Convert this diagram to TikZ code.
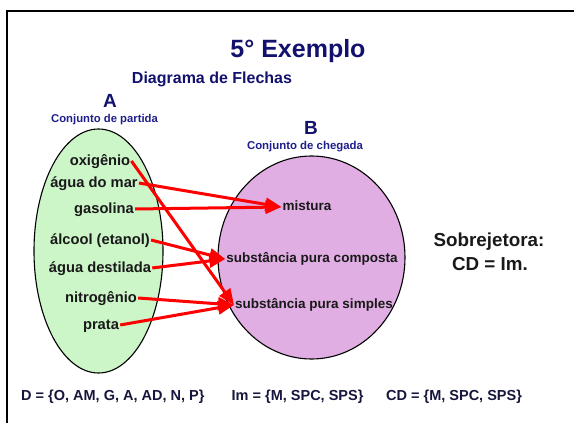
\documentclass[tikz,border=0pt]{standalone}
\usepackage{fontspec}
\setmainfont{Liberation Sans}
\usetikzlibrary{arrows.meta,shapes.geometric}
\definecolor{navy}{RGB}{18,18,110}
\definecolor{navylt}{RGB}{30,30,140}
\definecolor{navydk}{RGB}{22,22,60}
\definecolor{itemcol}{RGB}{25,25,25}
\definecolor{greenA}{RGB}{204,245,200}
\definecolor{violetB}{RGB}{224,174,227}
\newcommand{\fsz}[1]{\fontsize{#1}{#1}\selectfont\bfseries}
\begin{document}
\begin{tikzpicture}[x=1pt,y=-1pt,
  setshape/.style={draw=black, line width=1.1pt, ellipse, inner sep=0pt},
  itemA/.style={font=\fsz{14.7}, text=itemcol, inner sep=1pt, text height=8pt, text depth=0pt, anchor=center},
  itemB/.style={font=\fsz{13.5}, text=itemcol, inner sep=1pt, text height=7pt, text depth=0pt, anchor=center},
  lbl/.style={inner sep=0pt, anchor=base},
  arr/.style={draw=red, line width=3pt, -{Triangle[length=16pt,width=13pt]}}]
\useasboundingbox (0,0) rectangle (574,423);
% frame
\draw[line width=2.6pt] (7,430) -- (7,11) -- (590,11);
% sets
\node[setshape, fill=greenA, minimum width=129pt, minimum height=244pt] (setA) at (98.5,251) {};
\node[setshape, fill=violetB, minimum width=187pt, minimum height=203pt] (setB) at (311.5,257.5) {};
% titles
\node[lbl, font=\fsz{25}, text=navy] (title) at (298,57) {5° Exemplo};
\node[lbl, font=\fsz{16}, text=navy] (sub) at (212,83) {Diagrama de Flechas};
\node[lbl, font=\fsz{19}, text=navy] (labA) at (110,107) {A};
\node[lbl, font=\fsz{11.3}, text=navylt] (partida) at (104.5,122) {Conjunto de partida};
\node[lbl, font=\fsz{19}, text=navy] (labB) at (311,134) {B};
\node[lbl, font=\fsz{11.4}, text=navylt] (chegada) at (305,149) {Conjunto de chegada};
% domain items
\node[itemA] (o) at (100,161) {oxigênio};
\node[itemA] (am) at (94,183) {água do mar};
\node[itemA] (g) at (104,209) {gasolina};
\node[itemA] (al) at (100,240) {álcool (etanol)};
\node[itemA] (ad) at (100,268) {água destilada};
\node[itemA] (n) at (101,298) {nitrogênio};
\node[itemA] (p) at (101,325) {prata};
% codomain items
\node[itemB] (m) at (307,207) {mistura};
\node[itemB] (spc) at (312,259) {substância pura composta};
\node[itemB] (sps) at (314,305) {substância pura simples};
% right text
\node[lbl, font=\fsz{18.8}, text=itemcol] (sobre) at (489,246.7) {Sobrejetora:};
\node[lbl, font=\fsz{18.8}, text=itemcol] (cdim) at (490,270) {CD = Im.};
% bottom
\node[lbl, anchor=base west, font=\fsz{14.5}, text=navydk] (dom) at (21,400) {D = \{O, AM, G, A, AD, N, P\}};
\node[lbl, anchor=base west, font=\fsz{14.5}, text=navydk] (img) at (231.5,400) {Im = \{M, SPC, SPS\}};
\node[lbl, anchor=base west, font=\fsz{14.5}, text=navydk] (cod) at (386,400) {CD = \{M, SPC, SPS\}};
% arrows
\draw[arr] (o.east) -- (sps.west);
\draw[arr] (am.east) -- (m.west);
\draw[arr] (g.east) -- (m.west);
\draw[arr] (al.east) -- (spc.west);
\draw[arr] (ad.east) -- (spc.west);
\draw[arr] (n.east) -- (sps.west);
\draw[arr] (p.east) -- (sps.west);
\end{tikzpicture}
\end{document}
